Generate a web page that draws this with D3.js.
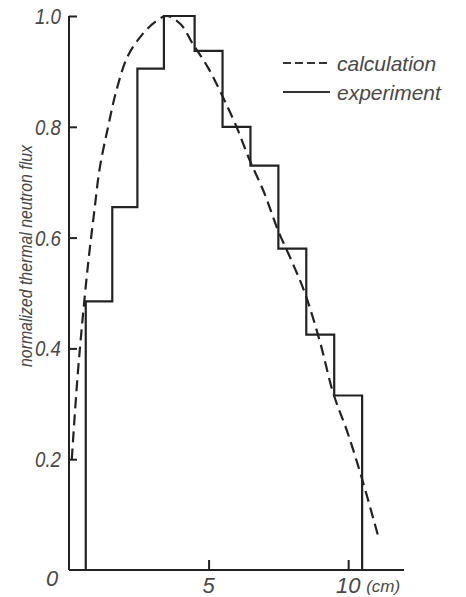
<!DOCTYPE html>
<html>
<head>
<meta charset="utf-8">
<script src="https://cdn.jsdelivr.net/npm/d3@7"></script>
<style>
  body { margin: 0; background: #fff; }
  text { font-family: "Liberation Sans", Arial, sans-serif; font-style: italic; fill: #484848; }
</style>
</head>
<body>
<div id="chart"></div>
<script>
// experiment: histogram bins (cm) and measured flux
var binEdges = [0.6, 1.55, 2.45, 3.4, 4.5, 5.5, 6.5, 7.5, 8.5, 9.5, 10.5];
var expFlux = [0.485, 0.655, 0.905, 1.0, 0.937, 0.80, 0.73, 0.58, 0.425, 0.315];

// calculation: dashed curve
var calcX = [0.1, 0.3, 0.5, 0.7, 0.9, 1.1, 1.4, 1.7, 2.1, 2.6, 3.1, 3.5, 4.0, 4.43, 5.0, 5.5, 6.0, 6.47, 7.0, 7.48, 8.0, 8.45, 9.0, 9.46, 10.0, 10.54, 11.08];
var calcY = [0.2, 0.345, 0.46, 0.56, 0.645, 0.725, 0.80, 0.866, 0.927, 0.965, 0.99, 1.0, 0.985, 0.95, 0.905, 0.855, 0.80, 0.74, 0.68, 0.614, 0.555, 0.5, 0.41, 0.32, 0.245, 0.157, 0.06];

var yTicks = [0, 0.2, 0.4, 0.6, 0.8, 1.0];
var xTicks = [5, 10];
var legendNames = ["calculation", "experiment"];

var width = 466, height = 597;

var svg = d3.select("#chart")
  .append("svg")
    .attr("width", width)
    .attr("height", height);

var x = d3.scaleLinear().domain([0, 12]).range([69, 404]);
var y = d3.scaleLinear().domain([0, 1]).range([570, 16]);

var ink = "#222";

// axes: plain lines with short inward ticks
var yAxis = d3.axisRight(y)
  .tickValues(yTicks.slice(1))
  .tickSize(8)
  .tickFormat("");
svg.append("g")
  .attr("transform", "translate(" + x(0) + ",0)")
  .call(yAxis)
  .call(function(g) {
    g.select(".domain").attr("d", "M0," + y(0) + "V" + y(1));
  })
  .selectAll("path, line")
    .attr("stroke", ink)
    .attr("stroke-width", 2);

var xAxis = d3.axisTop(x)
  .tickValues(xTicks)
  .tickSize(10)
  .tickFormat("");
svg.append("g")
  .attr("transform", "translate(0," + y(0) + ")")
  .call(xAxis)
  .call(function(g) {
    g.select(".domain").attr("d", "M" + x(0) + ",0H" + x(12));
  })
  .selectAll("path, line")
    .attr("stroke", ink)
    .attr("stroke-width", 2);

// y tick labels (narrow, like the hand lettering)
svg.selectAll(".ylab")
    .data(yTicks.slice(1))
  .enter()
    .append("text")
    .attr("class", "ylab")
    .attr("x", 61)
    .attr("y", function(d) { return y(d) + 8; })
    .attr("text-anchor", "end")
    .attr("font-size", 22)
    .attr("textLength", 26)
    .attr("lengthAdjust", "spacingAndGlyphs")
    .text(function(d) { return d3.format(".1f")(d); });

svg.append("text")
  .attr("x", 52)
  .attr("y", 586)
  .attr("text-anchor", "middle")
  .attr("font-size", 22)
  .text("0");

// x tick labels
svg.selectAll(".xlab")
    .data(xTicks)
  .enter()
    .append("text")
    .attr("class", "xlab")
    .attr("x", function(d) { return x(d); })
    .attr("y", 593)
    .attr("text-anchor", "middle")
    .attr("font-size", 22)
    .text(function(d) { return d; });

svg.append("text")
  .attr("x", x(10) + 18)
  .attr("y", 592)
  .attr("font-size", 17)
  .text("(cm)");

// y axis title
svg.append("text")
  .attr("transform", "translate(32,256) rotate(-90)")
  .attr("text-anchor", "middle")
  .attr("font-size", 19)
  .attr("textLength", 222)
  .attr("lengthAdjust", "spacingAndGlyphs")
  .text("normalized thermal neutron flux");

// experiment step line
var stepPts = [[binEdges[0], 0]];
for (var i = 0; i < expFlux.length; i++) {
  stepPts.push([binEdges[i], expFlux[i]]);
  stepPts.push([binEdges[i + 1], expFlux[i]]);
}
stepPts.push([binEdges[binEdges.length - 1], 0]);

svg.append("path")
  .datum(stepPts)
  .attr("d", d3.line()
    .x(function(d) { return x(d[0]); })
    .y(function(d) { return y(d[1]); }))
  .attr("fill", "none")
  .attr("stroke", ink)
  .attr("stroke-width", 2.2);

// calculation dashed curve
var calcPts = calcX.map(function(d, i) { return [d, calcY[i]]; });
svg.append("path")
  .datum(calcPts)
  .attr("d", d3.line()
    .curve(d3.curveCatmullRom)
    .x(function(d) { return x(d[0]); })
    .y(function(d) { return y(d[1]); }))
  .attr("fill", "none")
  .attr("stroke", ink)
  .attr("stroke-width", 2.2)
  .attr("stroke-dasharray", "11,6");

// legend
var legend = svg.append("g");
legend.selectAll("line")
    .data(legendNames)
  .enter()
    .append("line")
    .attr("x1", 283)
    .attr("x2", 330)
    .attr("y1", function(d, i) { return 63 + i * 29; })
    .attr("y2", function(d, i) { return 63 + i * 29; })
    .attr("stroke", "#333")
    .attr("stroke-width", 1.8)
    .attr("stroke-dasharray", function(d, i) { return i === 0 ? "8,4" : null; });
legend.selectAll("text")
    .data(legendNames)
  .enter()
    .append("text")
    .attr("x", 337)
    .attr("y", function(d, i) { return 71 + i * 29; })
    .attr("font-size", 21)
    .text(function(d) { return d; });
</script>
</body>
</html>
